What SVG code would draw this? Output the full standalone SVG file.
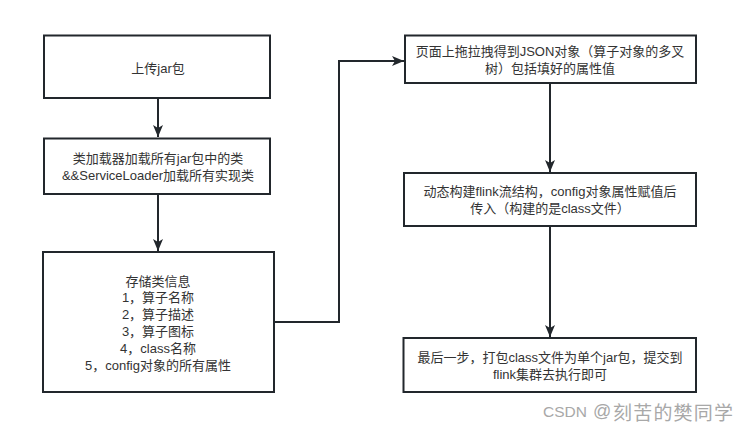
<svg xmlns="http://www.w3.org/2000/svg" width="748" height="434" viewBox="0 0 748 434">
<style>
.box{fill:#ffffff;stroke:#22272c;stroke-width:2}
.t{font-family:"Liberation Sans","Noto Sans CJK SC",sans-serif;font-size:13px;fill:#333333;text-anchor:middle;dominant-baseline:central}
.edge{fill:none;stroke:#22272c;stroke-width:2}
.wm{font-family:"Liberation Sans","Noto Sans CJK SC",sans-serif;fill:#a8a8a8}
</style>
<defs>
<marker id="arr" markerUnits="userSpaceOnUse" markerWidth="14" markerHeight="12" refX="12" refY="5" orient="auto" viewBox="0 0 14 10">
<path d="M0,0 L12,5 L0,10 L3,5 z" fill="#22272c"/>
</marker>
</defs>
<rect width="748" height="434" fill="#ffffff"/>
<g id="connectors">
<path class="edge" d="M158,98 L158,137" marker-end="url(#arr)"/>
<path class="edge" d="M158,194 L158,251" marker-end="url(#arr)"/>
<path class="edge" d="M274,322 L339,322 L339,61 L404,61" marker-end="url(#arr)"/>
<path class="edge" d="M550,83 L550,172" marker-end="url(#arr)"/>
<path class="edge" d="M550,226 L550,337" marker-end="url(#arr)"/>
</g>
<g id="n1">
<rect class="box" x="44" y="35.5" width="226" height="62.5"/>
<text class="t" x="158" y="68">上传jar包</text>
</g>
<g id="n2">
<rect class="box" x="44" y="138.5" width="226" height="55.5"/>
<text class="t"><tspan x="158" y="158">类加载器加载所有jar包中的类</tspan><tspan x="158" y="175">&amp;&amp;ServiceLoader加载所有实现类</tspan></text>
</g>
<g id="n3">
<rect class="box" x="43" y="252" width="231" height="140"/>
<text class="t"><tspan x="158" y="280.5">存储类信息</tspan><tspan x="158" y="297.3">1，算子名称</tspan><tspan x="158" y="314.1">2，算子描述</tspan><tspan x="158" y="330.9">3，算子图标</tspan><tspan x="158" y="347.7">4，class名称</tspan><tspan x="158" y="364.5">5，config对象的所有属性</tspan></text>
</g>
<g id="n4">
<rect class="box" x="405" y="35.5" width="291" height="47.5"/>
<text class="t"><tspan x="550" y="51">页面上拖拉拽得到JSON对象（算子对象的多叉</tspan><tspan x="550" y="68">树）包括填好的属性值</tspan></text>
</g>
<g id="n5">
<rect class="box" x="404" y="173" width="292" height="53"/>
<text class="t"><tspan x="550" y="191">动态构建flink流结构，config对象属性赋值后</tspan><tspan x="550" y="208">传入（构建的是class文件）</tspan></text>
</g>
<g id="n6">
<rect class="box" x="403.5" y="338" width="292.5" height="54"/>
<text class="t"><tspan x="550" y="357">最后一步，打包class文件为单个jar包，提交到</tspan><tspan x="550" y="374">flink集群去执行即可</tspan></text>
</g>
<text class="wm" y="417"><tspan x="543" font-size="15.5">CSDN</tspan><tspan x="593" font-size="18">@</tspan><tspan x="613" y="420" font-family="'Noto Sans CJK SC',sans-serif" font-size="19" textLength="120" lengthAdjust="spacing">刻苦的樊同学</tspan></text>
</svg>
